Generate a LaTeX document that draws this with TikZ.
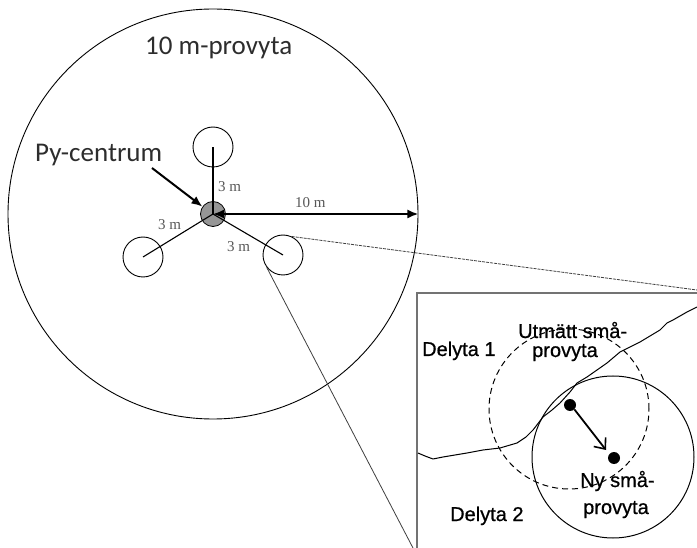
\documentclass[tikz,border=0pt]{standalone}
\usepackage{fontspec}
\setmainfont{Carlito}
\newfontfamily\arialf[FakeBold=0.7]{Liberation Sans}
\newfontfamily\timesf{Liberation Serif}
\usetikzlibrary{arrows.meta}
\definecolor{txt}{RGB}{45,45,45}
\definecolor{cgray}{RGB}{150,150,150}
\begin{document}
\begin{tikzpicture}[x=1pt,y=-1pt,
  ring/.style={draw, circle, inner sep=0pt, line width=0.9pt},
  small/.style={ring, minimum size=40pt},
  bigtxt/.style={inner sep=0pt, anchor=base west, text=txt, font=\fontsize{27}{30}\selectfont},
  mlabel/.style={inner sep=0pt, anchor=base west, text=txt!80, font=\timesf\fontsize{15}{17}\selectfont},
  itxt/.style={inner sep=0pt, anchor=base west, text=black, font=\arialf\fontsize{20}{22}\selectfont},
  thickarrow/.style={line width=2pt},
  zoomline/.style={line width=0.8pt, draw=black!75},
  dot/.style={circle, fill=black, inner sep=0pt, minimum size=12pt}
]
\useasboundingbox (0,0) rectangle (697,548);
\fill[white] (0,0) rectangle (697,548);

% main plot
\coordinate (O) at (213,214);
\node[ring, minimum size=410pt] (big) at (O) {};
\node[small] (ctop) at (213,147) {};
\node[small] (cleft) at (143,257) {};
\node[small] (cright) at (283,255) {};
\node[circle, draw, fill=cgray, inner sep=0pt, minimum size=25pt, line width=0.8pt] (pc) at (O) {};
\draw[line width=1.1pt] (pc.center) -- (ctop.center);
\draw[line width=1.1pt] (pc.center) -- (cleft.center);
\draw[line width=1.1pt] (pc.center) -- (cright.center);
\draw[thickarrow, {Latex[length=11pt,width=9pt]}-{Latex[length=11pt,width=9pt]}] (pc.center) -- (big.east);

\node[bigtxt] (title) at (145,55) {10 m-provyta};
\node[bigtxt] (pylab) at (35,162) {Py-centrum};
\coordinate (pyA) at (152,168);
\draw[thickarrow, -{Latex[length=11pt,width=9pt]}] (pyA) -- (pc.145);

\node[mlabel] (l1) at (218,192) {3 m};
\node[mlabel] (l2) at (158,230) {3 m};
\node[mlabel] (l3) at (227,252) {3 m};
\node[mlabel] (l4) at (295,208) {10 m};

% zoom lines
\coordinate (zTR) at (697,290);
\coordinate (zBL) at (413,548);
\draw[zoomline, dash pattern=on 3pt off 1pt] (cright.65) -- (zTR);
\draw[zoomline] (cright.217) -- (zBL);

% inset
\coordinate (iBL) at (417,548);
\coordinate (iTL) at (417,293);
\coordinate (iTR) at (697,293);
\draw[line width=1.6pt, draw=black!55] (iBL) -- (iTL) -- (iTR);

\draw[line width=1pt, line join=round]
 (418,453) -- (425,456) -- (433,459) -- (443,457) -- (455,455) -- (467,453)
 -- (483,450) -- (500,448) -- (517,443) -- (526,437) -- (533,430) -- (543,417)
 -- (552,410) -- (560,403) -- (570,392) -- (577,383) -- (587,377) -- (597,370)
 -- (607,363) -- (620,352) -- (630,347) -- (640,342) -- (650,336) -- (660,330)
 -- (667,323) -- (673,320) -- (680,316) -- (687,312) -- (697,307);

\node[ring, minimum size=160pt, dash pattern=on 6pt off 4pt, line width=1pt] (old) at (569,409) {};
\node[ring, minimum size=162pt, line width=1pt] (new) at (613,457) {};
\node[dot] (d1) at (570,405) {};
\node[dot] (d2) at (614,458) {};
\draw[line width=1.8pt, -{Straight Barb[length=9pt,width=15pt,line width=1.6pt]}] (d1.-45) -- ([shift={(-8,-8)}]d2.center);

\node[itxt] (t1) at (518,338) {Utmätt små-};
\node[itxt] (t2) at (532,357) {provyta};
\node[itxt] (t3) at (422,356) {Delyta 1};
\node[itxt] (t4) at (450,521) {Delyta 2};
\node[itxt] (t5) at (580,487) {Ny små-};
\node[itxt] (t6) at (583,514) {provyta};
\end{tikzpicture}
\end{document}
